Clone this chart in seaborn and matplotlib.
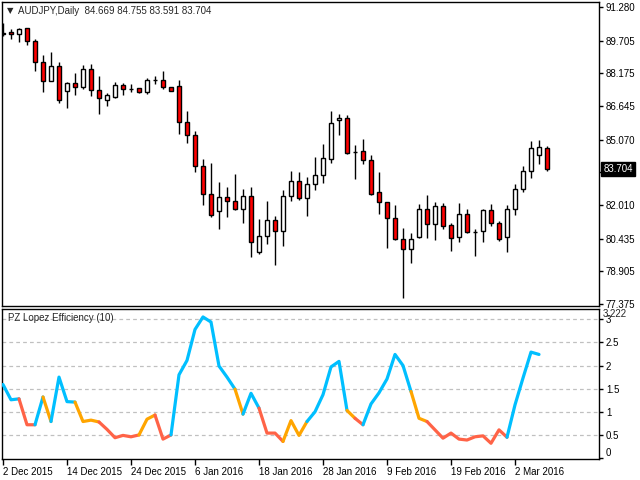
import matplotlib
matplotlib.use("Agg")
import matplotlib.pyplot as plt
import matplotlib.transforms as mtransforms
import numpy as np
import pandas as pd
import seaborn as sns

# ---------------- data ----------------
opens = [90.016, 90.094, 90.000, 90.297, 89.673, 88.689, 87.800, 88.502, 87.332, 87.706,
         87.550, 88.362, 87.379, 86.910, 87.082, 87.613, 87.425, 87.472, 87.285, 87.862,
         87.862, 87.519, 87.582, 85.881, 85.287, 83.820, 82.509, 81.713, 82.369, 82.181,
         81.838, 82.416, 79.794, 80.543, 81.292, 80.777, 82.416, 83.118, 82.322, 82.993,
         83.399, 84.148, 85.990, 86.068, 84.491, 84.522, 84.101, 82.603, 82.135, 81.385,
         80.402, 79.934, 80.527, 81.807, 81.104, 81.947, 81.058, 80.527, 81.573, 80.761,
         80.777, 81.760, 81.151, 80.496, 81.838, 82.743, 83.586, 84.335, 84.669]
highs = [90.516, 90.235, 90.313, 90.300, 89.766, 89.033, 89.173, 88.705, 87.784, 88.175,
         88.565, 88.611, 88.050, 87.238, 87.769, 87.706, 87.659, 87.503, 87.940, 88.050,
         88.299, 87.535, 87.862, 86.411, 85.475, 84.164, 83.976, 83.087, 82.853, 83.461,
         82.759, 82.853, 81.354, 82.197, 81.495, 82.712, 83.602, 83.555, 83.321, 84.257,
         84.866, 86.411, 86.271, 86.208, 84.819, 85.100, 84.351, 83.555, 82.140, 82.010,
         80.933, 80.699, 82.057, 82.478, 82.150, 82.119, 81.151, 82.103, 81.822, 80.870,
         81.822, 82.057, 81.261, 82.010, 82.993, 83.836, 85.006, 85.053, 84.755]
lows = [89.922, 89.766, 89.657, 89.501, 88.299, 87.316, 87.790, 86.786, 86.536, 87.176,
        87.457, 87.129, 86.255, 86.661, 87.035, 87.176, 87.316, 87.254, 87.222, 87.659,
        87.457, 87.332, 85.350, 84.928, 83.571, 82.025, 81.432, 80.902, 81.432, 81.791,
        81.182, 79.591, 79.731, 80.199, 79.216, 80.106, 82.181, 82.244, 81.510, 82.728,
        83.055, 83.992, 85.303, 84.413, 83.243, 83.945, 82.495, 81.604, 80.012, 80.390,
        77.640, 79.310, 80.480, 80.480, 80.386, 80.870, 79.872, 80.293, 80.720, 79.637,
        80.262, 81.042, 80.340, 79.825, 81.557, 82.618, 83.290, 83.945, 83.591]
closes = [90.079, 90.016, 90.235, 89.673, 88.689, 87.800, 88.502, 86.941, 87.706, 87.519,
          88.362, 87.379, 87.004, 87.144, 87.613, 87.425, 87.420, 87.285, 87.862, 87.870,
          87.519, 87.347, 85.881, 85.272, 83.820, 82.509, 81.526, 82.369, 82.181, 81.838,
          82.416, 80.262, 80.543, 81.292, 80.777, 82.416, 83.118, 82.322, 82.993, 83.415,
          84.195, 85.833, 86.083, 84.460, 84.480, 84.101, 82.509, 82.135, 81.385, 80.402,
          79.934, 80.402, 81.807, 81.104, 81.947, 81.042, 80.480, 81.573, 80.730, 80.750,
          81.760, 81.151, 80.433, 81.807, 82.743, 83.586, 84.663, 84.710, 83.704]

efficiency = [1.59, 1.26, 1.28, 0.72, 0.72, 1.32, 0.79, 1.75, 1.22, 1.21,
              0.79, 0.82, 0.78, 0.62, 0.44, 0.49, 0.46, 0.50, 0.84, 0.93,
              0.41, 0.50, 1.80, 2.11, 2.78, 3.05, 2.94, 1.99, 1.75, 1.49,
              0.95, 1.40, 1.08, 0.54, 0.54, 0.36, 0.81, 0.49, 0.79, 1.00,
              1.37, 1.97, 2.09, 1.03, 0.86, 0.72, 1.17, 1.41, 1.71, 2.24,
              2.00, 1.44, 0.86, 0.79, 0.61, 0.43, 0.54, 0.41, 0.39, 0.46,
              0.48, 0.32, 0.61, 0.45, 1.15, 1.73, 2.29, 2.24]
# colour state of each segment (bar i -> bar i+1): b=blue, o=orange, r=red
segment_state = "bbrrbobbbooorrrrroorrbbbbbbbbobbrrrooobbbbborbbbbbboorrrrrrrrrrbbbb"

date_labels = ["2 Dec 2015", "14 Dec 2015", "24 Dec 2015", "6 Jan 2016", "18 Jan 2016",
               "28 Jan 2016", "9 Feb 2016", "19 Feb 2016", "2 Mar 2016"]
date_label_bars = [0, 8, 16, 24, 32, 40, 48, 56, 64]

price_ticks = [91.280, 89.705, 88.175, 86.645, 85.070, 83.540, 82.010, 80.435, 78.905, 77.375]
eff_ticks = [0, 0.5, 1, 1.5, 2, 2.5, 3]
eff_tick_labels = ["0", "0.5", "1", "1.5", "2", "2.5", "3"]
eff_max = 3.222

header = "AUDJPY,Daily  84.669 84.755 83.591 83.704"
indicator_name = "PZ Lopez Efficiency (10)"
last_price = 83.704

# ---------------- style ----------------
sns.set_style("white")
FONT = ["Liberation Sans", "DejaVu Sans"]
plt.rcParams["font.family"] = FONT
plt.rcParams["font.size"] = 7
plt.rcParams["axes.linewidth"] = 1.0
FS = 7

state_colors = {"b": "#00BFFF", "o": "#FFA500", "r": "#FF6347"}

fig = plt.figure(figsize=(6.4, 4.8), dpi=100)
fig.patch.set_facecolor("white")
W, H = 640.0, 480.0
ax1 = fig.add_axes([2 / W, (H - 306) / H, 597 / W, 304 / H])
ax2 = fig.add_axes([2 / W, (H - 459) / H, 597 / W, 150 / H])

n = len(opens)
bars = np.arange(n)
df = pd.DataFrame({"bar": bars, "open": opens, "high": highs, "low": lows, "close": closes})
df["bull"] = df["close"] >= df["open"]

# ---------------- candles ----------------
ax1.vlines(df["bar"], df["low"], df["high"], color="black", linewidth=1.0, zorder=2)
body_h = (df["close"] - df["open"]).to_numpy()
fill = np.where(df["bull"], "white", "#FF0000")
ax1.bar(df["bar"], body_h, bottom=df["open"], width=0.62, color=fill,
        edgecolor="black", linewidth=1.0, zorder=3)

ax1.set_xlim(-0.125, 74.5)
ax1.set_ylim(77.28, 91.51)
ax1.yaxis.tick_right()
ax1.set_yticks(price_ticks)
ax1.set_yticklabels([f"{v:.3f}" for v in price_ticks])
ax1.tick_params(axis="y", which="both", right=True, left=False, direction="out",
                length=3, width=1.0, pad=2, labelsize=FS, colors="black")
ax1.tick_params(axis="x", bottom=False, labelbottom=False)
for s in ax1.spines.values():
    s.set_color("black")
    s.set_linewidth(1.0)

ax1.text(5 / 597, 1 - 9 / 304, "\u25bc", transform=ax1.transAxes, fontsize=6,
         va="center", ha="left", family=["DejaVu Sans"])
ax1.text(16 / 597, 1 - 9 / 304, header, transform=ax1.transAxes, fontsize=FS,
         va="center", ha="left")

trans = mtransforms.blended_transform_factory(ax1.transAxes, ax1.transData)
ax1.text(1.007, last_price, "83.704", transform=trans, color="white", fontsize=FS,
         va="center", ha="left", clip_on=False, zorder=10,
         bbox=dict(boxstyle="square,pad=0.2", facecolor="black", edgecolor="black"))

# ---------------- indicator ----------------
eff_bars = np.arange(len(efficiency))
runs = []
start = 0
for i in range(1, len(segment_state) + 1):
    if i == len(segment_state) or segment_state[i] != segment_state[start]:
        runs.append((start, i, segment_state[start]))
        start = i
for a, b, st in runs:
    sub = pd.DataFrame({"bar": eff_bars[a:b + 1], "eff": efficiency[a:b + 1]})
    sns.lineplot(data=sub, x="bar", y="eff", ax=ax2, color=state_colors[st],
                 linewidth=2.3, solid_capstyle="round", legend=False, zorder=4)

ax2.set_xlim(-0.125, 74.5)
ax2.set_ylim(-0.02, eff_max)
ax2.set_xlabel("")
ax2.set_ylabel("")
for v in eff_ticks[1:]:
    ax2.axhline(v, color="#C0C0C0", linewidth=0.9, linestyle=(0, (3, 2.5)), zorder=1)
ax2.yaxis.tick_right()
ax2.set_yticks(eff_ticks)
ax2.set_yticklabels(eff_tick_labels)
ax2.tick_params(axis="y", right=True, left=False, direction="out", length=3,
                width=1.0, pad=2, labelsize=FS, colors="black")
ax2.get_yticklabels()[0].set_va("bottom")
ax2.set_xticks(date_label_bars)
ax2.set_xticklabels(date_labels, ha="left")
ax2.tick_params(axis="x", bottom=True, direction="out", length=4, width=1.0,
                pad=1.5, labelsize=FS, colors="black")
for s in ax2.spines.values():
    s.set_color("black")
    s.set_linewidth(1.0)

ax2.text(1.007, 1 - 5 / 150, f"{eff_max:.3f}", transform=ax2.transAxes, fontsize=FS,
         va="center", ha="left", clip_on=False)
ax2.text(6 / 597, 1 - 9 / 150, indicator_name, transform=ax2.transAxes, fontsize=FS,
         va="center", ha="left")

fig.savefig("out.png", dpi=100, facecolor="white")
